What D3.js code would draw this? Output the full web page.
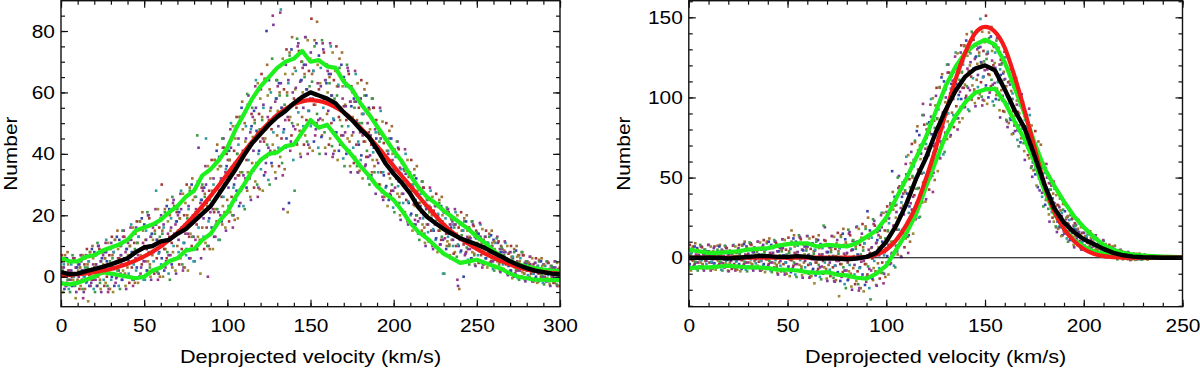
<!DOCTYPE html>
<html>
<head>
<meta charset="utf-8">
<title>Deprojected velocity histograms</title>
<script src="https://d3js.org/d3.v7.min.js"></script>
<style>
  body { margin: 0; background: #fff; }
</style>
</head>
<body>
<svg id="chart" width="1200" height="371"></svg>
<script>
// ---------- data ----------
// left panel, step 5 km/s
var leftV = [0,5,10,15,20,25,30,35,40,45,50,55,60,65,70,75,80,85,90,95,100,105,110,115,120,125,130,135,140,145,150,155,160,165,170,175,180,185,190,195,200,205,210,215,220,225,230,235,240,245,250,255,260,265,270,275,280,285,290,295,300];
var leftBlack = [1.5,0.8,1.0,1.8,2.5,3.2,4.0,5.0,6.0,8.0, 9.5,10.0,11.5,12.0,14.0,15.5,18.0,20.5,23.0,27.0, 31.0,35.0,39.5,43.5,46.5,49.5,52.0,54.0,56.5,58.5, 60.0,59.0,58.0,56.5,53.5,51.0,48.0,45.5,41.5,37.0, 33.5,30.5,27.0,22.5,19.5,17.5,15.5,14.0,12.5,11.5, 10.5,9.3,7.8,6.5,5.0,3.8,2.8,2.0,1.5,1.0, 0.8];
var leftRed = [0.4,0.6,0.8,1.1,1.5,2.0,2.5,3.3,4.2,5.3, 6.6,8.1,9.9,12.0,14.3,17.0,19.9,23.0,26.3,29.8, 33.4,37.0,40.6,44.0,47.3,50.1,52.7,54.6,56.2,57.1, 57.5,57.2,56.5,55.2,53.5,51.2,48.5,45.6,42.5,39.3, 36.0,32.7,29.5,26.2,23.0,20.0,17.0,14.6,12.5,10.7, 9.0,7.5,6.2,5.0,4.0,3.1,2.4,1.9,1.5,1.2, 1.0];
var leftUpper = [6.0,5.0,5.0,6.5,7.0,8.5,9.5,10.5,12.0,15.0, 16.0,17.0,18.5,21.0,23.0,26.0,28.0,33.0,35.0,38.0, 42.0,48.0,53.0,58.0,62.0,65.0,68.0,70.0,71.0,73.5, 70.0,70.5,68.5,68.0,63.5,61.0,56.5,53.0,49.0,45.0, 41.0,37.5,33.0,29.0,26.0,24.0,21.5,19.5,17.5,15.5, 13.0,11.0,8.5,6.5,5.0,4.0,3.3,2.7,2.3,2.0, 1.8];
var leftLower = [-2.2,-2.5,-2.0,-1.0,0.0,1.5,1.0,0.5,0.0,-0.5, 0.0,2.0,3.0,5.0,6.0,8.5,9.0,12.0,14.0,18.0, 21.0,26.0,30.0,34.5,38.0,40.0,40.5,42.5,43.0,47.0, 51.0,48.5,49.5,46.0,42.5,39.5,36.0,33.0,29.5,27.0, 25.0,21.5,17.5,14.5,12.5,10.0,7.5,6.0,4.5,5.0, 5.5,4.5,3.5,2.5,1.0,0.0,-0.5,-1.0,-1.0,-1.1, -1.1];

// right panel, step 5 km/s
var rightV = [0,5,10,15,20,25,30,35,40,45,50,55,60,65,70,75,80,85,90,95,100,105,110,115,120,125,130,135,140,145,150,155,160,165,170,175,180,185,190,195,200,205,210,215,220,225,230,235,240,245,250];
var rightBlack = [0,0,0,0,-0.5,0,0.5,1,1,0.5, 0.5,1,0.5,-0.5,-0.5,-0.5,-1,-0.5,0.5,3, 10,20,33,49,62,78,92,104,113,118, 120,117,105,92,81,64,46,31,22,16, 11.5,8.5,5.5,3,1.5,0.7,0.3,0.1,0,0, 0];
var rightRed = [0,0,0,0,0,0,0,0,0,0, 0,0,0,0,0,0,0,0,0.5,2, 5,11,20,32,49,68,90,111,128,140, 144,141,131,113,92,69,46,29,18,10.5, 5.5,2.5,1,0.3,0,0,0,0,0,0, 0];
var rightUpper = [5,4,3,3,3.5,4,5,5.5,6,7.5, 8.5,9,9,7,8,7.5,7,9,13,17, 25,37,49,62,75,91,107,119,128,133, 136,133,122,106,90,72,56,45,35,26, 19,13,8,5,3,2,1.3,1,0.7,0.5, 0.3];
var rightLower = [-6.5,-6,-6,-5.5,-5,-5.5,-6,-6,-6.5,-7.5, -7.5,-8,-9,-9.5,-9,-10.5,-11,-12.5,-13,-10, -5,5,15,27,44,60,76,88,97,103, 105,105.5,97,85,74,60,42,28,18,11, 7,4,2.5,1.5,0.8,0.5,0.2,0.1,0,0, 0];

// scatter of individual realisations: [velocity, 8 values]
var leftScatter = [
[0,-4,0,2,5,-2,7,3,1],[3,3,-4,6,0,1,-2,8,2],[6,-1,5,-5,2,4,0,-3,6],[9,6,1,-3,-7,3,5,-1,4],
[12,0,4,3,-3,7,-1,2,-7],[15,-5,0,3,6,-2,9,4,1],[18,5,-3,8,1,2,-1,10,4],[21,-1,8,-5,4,7,2,-3,10],
[24,10,3,-2,-4,5,8,1,7],[27,2,8,6,-2,12,0,4,-5],[30,-4,1,5,9,-1,13,7,3],[33,8,-3,12,3,5,0,15,6],
[36,2,12,-4,7,10,4,-1,13],[39,15,6,0,-3,9,12,3,11],[42,5,12,10,0,17,3,8,-3],[45,-1,5,9,14,2,18,11,7],
[48,13,0,18,7,9,4,21,11],[51,5,17,-1,12,15,9,2,20],[54,20,10,3,0,13,17,7,16],[57,8,17,14,2,28,6,12,-1],
[60,1,8,13,19,4,30,15,10],[63,17,2,21,9,12,6,25,14],[66,7,22,-1,15,19,11,3,24],[69,25,14,6,2,18,21,10,20],
[72,12,21,19,6,28,9,16,2],[75,3,11,17,24,7,30,20,14],[78,23,6,28,14,17,10,32,20],[81,13,28,5,21,26,17,9,31],
[84,42,20,11,1,25,29,16,28],[87,19,29,26,11,45,16,23,0],[90,10,19,25,32,14,38,28,22],[93,32,13,38,22,26,18,43,29],
[96,21,39,12,31,36,26,17,42],[99,45,30,21,16,35,40,25,38],[102,29,41,38,21,50,26,34,16],[105,20,30,37,45,25,52,40,33],
[108,45,23,52,34,38,29,57,41],[111,33,53,22,44,49,38,28,56],[114,59,43,32,26,48,53,37,52],[117,41,54,50,31,64,37,47,26],
[120,29,41,48,58,35,66,52,45],[123,56,33,64,45,48,39,69,52],[126,42,64,30,54,60,48,36,85],[129,82,52,40,34,58,64,46,62],
[132,49,63,59,39,87,45,55,33],[135,22,48,56,66,42,74,60,52],[138,64,24,72,52,56,46,78,60],[141,49,71,28,61,67,55,43,75],
[144,76,58,46,40,64,70,52,68],[147,55,69,65,46,78,51,61,40],[150,43,54,62,71,49,84,66,58],[153,67,44,75,56,59,50,83,63],
[156,51,72,40,63,68,57,46,76],[159,74,58,47,42,64,69,53,67],[162,54,66,63,45,75,50,59,39],[165,40,51,58,67,46,75,62,55],
[168,62,41,68,51,55,46,73,58],[171,46,65,36,56,62,51,41,68],[174,67,52,41,36,57,62,46,60],[177,47,58,55,39,66,43,51,34],
[180,34,43,50,58,38,64,53,46],[183,53,35,59,44,47,39,63,50],[186,39,55,30,48,52,43,34,58],[189,55,42,34,30,47,51,38,49],
[192,37,47,44,30,54,34,41,26],[195,25,33,38,45,29,50,41,36],[198,40,25,45,32,35,28,49,38],[201,28,41,21,35,39,32,24,44],
[204,42,31,24,20,35,38,27,37],[207,27,35,32,21,40,25,30,18],[210,17,24,28,34,20,38,30,26],[213,29,17,33,23,25,20,36,27],
[216,18,29,12,24,27,21,15,31],[219,29,20,14,11,23,26,17,25],[222,17,23,21,12,28,15,20,10],[225,9,15,18,23,12,27,20,17],
[228,20,9,24,15,16,12,26,18],[231,12,21,1,17,19,14,10,22],[234,22,14,10,7,17,19,12,18],[237,12,17,16,8,21,10,14,-1],
[240,-3,10,13,17,8,21,15,12],[243,15,0,18,11,12,8,20,13],[246,9,16,4,13,15,11,6,18],[249,17,11,7,4,13,15,9,14],
[252,9,14,12,5,17,7,11,3],[255,4,8,10,13,6,15,11,9],[258,11,4,13,7,8,5,15,10],[261,5,12,2,9,11,7,3,13],
[264,11,7,4,2,8,10,5,9],[267,5,8,7,2,11,4,6,1],[270,0.5,3.5,5.5,8,2,10,6.5,4.5],[273,6,0,8,3,4,2,10,5],
[276,2,7,-1,5,6,3,0,8],[279,7,3,1,-1,4,5,2,5],[282,2,4.5,4,0,6.5,1,3,-1.5],[285,-1.5,1,2.5,4.5,-0.5,6,3,1.5],
[288,3.5,-1.5,5,1,2,0,6,2.5],[291,0,4,-2.5,2,3.5,1,-1.5,5],[294,4.5,1,-1.5,-2.5,2.5,3.5,0,3],[297,0,3,2,-2,5,-0.5,1.5,-3],
[300,-3,-0.5,1,3,-1.5,5,2,0.5]
];
var leftScatter2 = [
[1.5,5,-2,2,-5,4,0,7,-3],[4.5,-3,6,-1,4,-4,2,5,-1],[7.5,2,-3,7,-1,0,6,-2,3],[10.5,-5,3,5,2,-2,-4,3,7],
[13.5,5,2,-4,7,0,4,-4,1],[16.5,7,-1.5,3,-8,5,0.5,8,-3],[19.5,-2,9,0,6,-4,3,7,-1],[22.5,4,-3,11,0,1,9,-1,5],
[25.5,-5,6,8,4,-1,-3,6,11],[28.5,8,5,-3,11,1,7,-4,3],[31.5,11,0,6,-5,8,2.5,12,-2],[34.5,-0.5,13,2,9,-3,6,10,1],
[37.5,7,-1,15,2,4,13,1,8],[40.5,-4,9,12,7,1,-2,10,16],[43.5,12,8,-1,16,4,11,-2,6],[46.5,16,3,11,-2,13,6,18,1],
[49.5,3,19,6,15,-1,10,16,5],[52.5,12,2,21,5,8,19,4,13],[55.5,-1,14,17,12,5,1,15,22],[58.5,17,12,1.5,22,7.5,16,0,10],
[61.5,20,6,14,0,16,9,22,3],[64.5,5,23,8,18,1,13,20,7],[67.5,16,4,26,8,10,23,6,17],[70.5,1,18,22,15,8,4,19,27],
[73.5,22,16,4,27,11,20,3,14],[76.5,26,9,19,2,22,13,29,6],[79.5,9,30,13,25,5,19,26,12],[82.5,22,9,46,13,16,31,12,24],
[85.5,6,25,30,22,13,9,27,36],[88.5,30,24,10,36,18,28,9,21],[91.5,35,16,27,9,30,21,38,13],[94.5,17,41,22,35,12,28,36,20],
[97.5,32,18,45,23,26,42,21,34],[100.5,15,36,41,33,23,18,38,48],[103.5,42,35.5,20,49,29,41,18.5,32],[106.5,49,28,40,19,43,33,52,24],
[109.5,28,55,34,48,23,41,50,32],[112.5,45,29,59.5,34,38,56,32.5,47],[115.5,25,49,55,45.5,34.5,29,51,62],[118.5,55,47.5,30,63,40,53,28.5,44],
[121.5,61,38,51,28,55,44,64.5,34],[124.5,37,80,43,59,31.5,51,61,41],[127.5,55,37,71,43,47,67,41,57],[130.5,32,58,64,54,42,36,60,86],
[133.5,63,55,37,71,47,61,35,51],[136.5,69,45,59,21,63,51,73,41],[139.5,44,74,50,66,38,58,68,48],[142.5,61.5,43.5,77.5,49.5,53.5,73.5,47.5,63.5],
[145.5,39,64,70,60,49,43,66,78],[148.5,69,61,44,77,54,67,42,58],[151.5,73,50,63.5,41,67,56,77,46],[154.5,48,76,53,69,42,61,70.5,51.5],
[157.5,62,45.5,77,51,55,73,49,64],[160.5,40,63,69,60,49,43,65,76],[163.5,66,59,42.5,73,51.5,64,41,55],[166.5,68,47,59,38,62.5,52,71,43],
[169.5,43.5,69,49,62,38.5,55.5,64,47],[172.5,55.5,40,69,45,49,66,44,57],[175.5,34,55.5,60.5,52,42,37,57,67],[178.5,57,50.5,36,63,44,55,34.5,47],
[181.5,58,39.5,50,32,53,44,61,36],[184.5,36.5,59,41,53,32,47,54.5,39.5],[187.5,46,33,58,38,40.5,55,36,48],[190.5,27,45,49,42,34,30,46.5,55],
[193.5,45,39.5,27.5,50.5,34,43.5,26,37],[196.5,45,29.5,38.5,23,41,33.5,47.5,27],[199.5,26.5,45,30,40,22.5,35,41.5,29],[202.5,34.5,23.5,44,27,29.5,41.5,26,35.5],
[205.5,18.5,33.5,37,31,24,21,34.5,41.5],[208.5,33.5,29,19,38,24.5,32.5,18,27],[211.5,33,20.5,28,15,30,23.5,35,18.5],[214.5,17,32,20,28,14,24,29,19],
[217.5,23,14,31,17,19,29,16,24],[220.5,10,22,25,20,14.5,11.5,23,29],[223.5,22.5,19,11,26,15.5,21.5,10,17],[226.5,23,12.5,18.5,8,20.5,15,25,10.5],
[229.5,10.5,23,13,20,1,16.5,21,12.5],[232.5,16,9,22.5,11.5,13,21,10.5,17],[235.5,6,16,18.5,14.5,10,7.5,17,22],[238.5,17,13.5,6.5,20,10.5,16,-4,12],
[241.5,17.5,8.5,13.5,4.5,15,10.5,19,7],[244.5,7.5,18,9.5,15,5.5,12.5,16,9],[247.5,12.5,6,18,8,9.5,16.5,7.5,13],[250.5,3.5,12.5,14.5,11,7,4.5,13,17.5],
[253.5,13,10,4.5,15.5,7.5,12,4,9],[256.5,13,6,10,3,11,7.5,14,4.5],[259.5,4.5,13.5,6,11,2.5,8.5,11.5,5.5],[262.5,8,3,12.5,5,6,11.5,4.5,9],
[265.5,1.5,8,9.5,7,4,2.5,8.5,11.5],[268.5,8,6,1.5,10,4,7.5,1,5],[271.5,8,2,5.5,-0.5,6.5,3.5,9,1],[274.5,1,8.5,2.5,6.5,-0.5,4.5,7,2],
[277.5,4,0,8,1.5,2.5,7,1,4.5],[280.5,-1.5,4,5,3,0.5,-0.5,4.5,6.5],[283.5,4,2.5,-1,6,1,4,-1.5,2],[286.5,4.5,0,2.5,-2,3.5,1,5.5,-1],
[289.5,-1,5,0.5,3.5,-2,2,4,0],[292.5,2,-1.5,5,-0.5,0.5,4.5,-1,2.5],[295.5,-3,2,3.5,1.5,-1,-2,2.5,5],[298.5,3,1,-2.5,4.5,-0.5,2.5,-3,0.5]
];
var rightScatter = [
[0,-7,-2,1,5,-5,8,2,-1],[2.5,3,-6,6,-2,0,-4,9,2],[5,-3,6,-8,2,4,-1,-6,7],[7.5,7,0,-5,-7,2,5,-2,4],
[10,-2,4,2,-6,8,-3,1,-8],[12.5,-6,-3,1,4,-5,7,3,0],[15,3,-6,5,-2,1,-4,8,2],[17.5,-3,5,-8,1,4,-1,-6,7],
[20,6,-1,-5,-8,2,4,-3,3],[22.5,-2,4,2,-6,8,-4,1,-8],[25,-7,-2,1,5,-5,8,2,-1],[27.5,4,-7,7.5,-1.5,0.3,-4,10,2],
[30,-3,7,-8.5,2,5,-0.5,-6,8.5],[32.5,9,1,-4.5,-7,3.5,6,-2,5],[35,-1,5.5,3.5,-5,10,-2.5,2,-8],[37.5,-8,-2,2,7,-5,11,4,0],
[40,5,-7,9,-1,1,-4,12,3],[42.5,-3,8,-9,3,6,0,-6,10],[45,10,0.5,-6,-9.5,4,7,-3,6],[47.5,-2,6,4,-7,11.5,-4,1.5,-10.5],
[50,-10,-3,2,8,-7,12.5,4,-1],[52.5,5.5,-9,10,-1.5,1,-5,14,3],[55,-4,10,-12,3.5,7.5,0,-8,13],[57.5,12.5,1,-7,-11,5,8.5,-3,7],
[60,-2,7,4.5,-8.5,13.5,-4.5,2,-12.5],[62.5,-12,-4,1,8,-8,13,4,-1],[65,4.5,-11,10,-3,-0.5,-7,14,2],[67.5,-6,8.5,-13.5,2,6,-2,-9.5,11],
[70,19,-0.5,-9,-13,3.5,8,-4.5,6.5],[72.5,-3,6.5,3.5,-10,13.5,-6,1,-14.5],[75,-15,-5,1,9,-10,15.5,4,-2],[77.5,6,-14.5,13,-4,-1,-9,18,2.5],
[80,-8,11.5,-19,2.5,8,-3,-13.5,15],[82.5,16,-1,-12,-18,5,10.5,-6.5,8.5],[85,-4.5,9.5,5.5,-14.5,19.5,-8.5,1.5,-20.5],[87.5,-19,-6,2,12.5,-12.5,21,6.5,-2],
[90,9,-17,18,-4,0.5,-10.5,25,5],[92.5,-7,17,-26,6,12.5,-0.5,-14,21],[95,23,3,-10,-17,9.5,16,-3.5,14],[97.5,1.5,17,12.5,-9.5,28,-3,8,-16],
[100,-10,3.5,12,23,-3,32,16.5,8],[102.5,24.5,-4,34,10,15,3,41,20],[105,9.5,38,-6,25,33,17.5,2,43.5],[107.5,51,26,9,1,34.5,43,17.5,40],
[110,27,48,42,12,63,21,36,3],[112.5,14,32,44,59,23,71,50,38],[115,61,25,73,43,49,34,82,55],[117.5,43.5,76.5,25.5,61.5,70.5,52.5,34.5,96],
[120,89,62,44,35,71,80,53,77],[122.5,64,84.5,78.5,50,99,58.5,73,41],[125,53,69.5,81,95,61,106,86.5,75],[127.5,96,63.5,106.5,79.5,85,71.5,114.5,90.5],
[130,81.5,110,66,97,105,89.5,74,115.5],[132.5,120.5,98,83,75.5,105.5,113,90.5,110.5],[135,99,116,111,87,128,94.5,106.5,80],[137.5,87,101.5,111,123,94,132.5,115.5,106],
[140,122.5,94,132,108,113,101,139.5,118],[142.5,106,132,91.5,120,127.5,113,98.5,137],[145,139.5,118,103.5,96.5,125,132.5,111,130],[147.5,114,131,126,102,149,109.5,121.5,95],
[150,98.5,113,122.5,134.5,105.5,151,127,117.5],[152.5,127.5,100,137,114,118.5,107,144,123],[155,108,132.5,95,121.5,128,115,101.5,137],[157.5,130,111,98.5,92,117.5,123.5,104.5,121.5],
[160,101,115,111,91,125,97,107,85],[162.5,81.5,93,100.5,110,87,117.5,104,96.5],[165,99,77.5,106.5,88.5,92,83,112,95.5],[167.5,79.5,98.5,69.5,90,95,85,74.5,102],
[170,95.5,81,71.5,66.5,86,90.5,76,89],[172.5,70,81,78,62,89,66.5,74.5,57],[175,50.5,59.5,65.5,73,55,79,68.5,62.5],[177.5,60.5,44,66,52,55,48,70.5,58],
[180,40.5,56,32,49,53,44.5,36,58.5],[182.5,50,38.5,30.5,27,42.5,46.5,34.5,45],[185,28.5,37,34.5,22.5,43,26,32,19],[187.5,16,22.5,27,32.5,19.5,37,29.5,25],
[190,26,14,30,20,22,17,33,24],[192.5,15.5,25.5,10,21,23.5,18,12.5,27],[195,24,16,10.5,8,18.5,21.5,13.5,20.5],[197.5,12,17.5,16,8,21.5,10.5,14.5,5.5],
[200,5,9.5,12,15.5,7.5,18.5,13.5,11],[202.5,12.5,5,15,9,10,7,16.5,11],[205,6,12.5,2.5,9.5,11.5,8,4.5,14],[207.5,11.5,7,4,2.5,8.5,10,5.5,9.5],
[210,4.5,8,7,2,10.5,3.5,6,0.5],[212.5,0.5,3,4.5,6.5,2,8,5.5,4],[215,4.5,0,6,2,3,1,7.5,4],[217.5,1,4.5,-1,3,3.5,2,0,5],
[220,4,1.5,0,-1,2.5,3.5,0.5,3],[222.5,0.5,2,2,-1,3.5,0,1,-1.5],[225,-1,0,1,2,-0.5,2.5,1.5,0.5],[227.5,1.5,-1,2,0,0.5,-0.5,2.5,1],
[230,-0.3,1.4,-1.2,0.6,1,0.2,-0.7,1.6],[232.5,1.5,0.2,-0.7,-1.2,0.6,1.1,-0.3,1]
];
var rightScatter2 = [
[1.25,5.5,-4,1.5,-8,3,-1.5,7,-5.5],[3.75,-5,7,-2.5,4,-7,1,5,-3],[6.25,1.5,-5.5,8,-3,-1.5,6.5,-4,2.5],[8.75,-8,2.5,5,1,-4,-6.5,3,8],
[11.25,4,1,-6.5,7,-2.5,3,-7,-1],[13.75,6,-3.5,2,-7.5,3.5,-1,7.5,-5],[16.25,-5,7,-2.5,4,-7.5,0.5,4.5,-3.5],[18.75,1,-6,7.5,-3.5,-2,6,-4.5,2],
[21.25,-8.5,2,4.5,0.5,-4.5,-7,3,7.5],[23.75,4,0.5,-6.5,7,-2.5,3,-7.5,-1],[26.25,6,-4,2,-8.5,3.5,-1.5,8,-6],[28.75,-5,8.5,-2.5,5,-7.5,1.5,6,-3],
[31.25,2.5,-5.5,9.5,-3,-1,8,-4,3.5],[33.75,-8,3.5,6.5,2,-3.5,-6.5,4.5,10],[36.25,6,2,-6.5,9.5,-2,5,-7.5,0],[38.75,8,-4,3,-9,5,-1,10,-6],
[41.25,-5,10,-2,6,-8,2,7,-3],[43.75,3,-6.5,11,-3.5,-1.5,9,-4.5,4],[46.25,-10.5,4,7,1.5,-5,-8.5,5,11.5],[48.75,6,1.5,-8.5,11,-3,5,-10,-0.5],
[51.25,9,-5.5,3,-11.5,5.5,-1.5,17,-7.5],[53.75,-6.5,12,-3,7,-10.5,2,8.5,-4],[56.25,3.5,-8,14,-4.5,-1.5,11.5,-5.5,5],[58.75,-12.5,4.5,8.5,2,-6,-9.5,6,13.5],
[61.25,7,1.5,-10,12,-3.5,5.5,-11.5,-1],[63.75,9,-7,2.5,-16,5,-3,11.5,-9.5],[66.25,-8.5,11,-4.5,6,-12,1,7.5,-5.5],[68.75,2,-10,20,-6,-3,10.5,-7,3.5],
[71.25,-14.5,3.5,8,1,-7.5,-11.5,5,13.5],[73.75,7,1,-12.5,13,-5,5.5,-14,-2],[76.25,11,-9,2.5,-24,6,-4,14,-12],[78.75,-11.5,15,-6,8,-16.5,1,9.5,-8],
[81.25,3,-14,17.5,-8.5,-4.5,14,-10,4.5],[83.75,-20,5,11,1,-10.5,-16.5,7,19],[86.25,10,2,-16.5,18,-6.5,8,-19,-2.5],[88.75,15,-10.5,4.5,-21,9,-4,19.5,-15],
[91.25,-12,29,-5.5,12,-19,3,14,-8],[93.75,6.5,-13,24,-6.5,-2,20,-8.5,9],[96.25,-17.5,11,17.5,6.5,-6.5,-13,13,26.5],[98.75,19,10,-9.5,28,1.5,17,-12,6],
[101.25,28.5,1,17,-10.5,21.5,8,33,-3.5],[103.75,2.5,54,10,30,-5,20,32.5,7.5],[106.25,28.5,4,50,12,17.5,44.5,9.5,31],[108.75,0.5,38,47,32.5,15,6.5,41,58.5],
[111.25,52,40,13,64,28,49,10,34],[113.75,66,30,51,15,57,39,72,24],[116.25,34,79,43,67,25,55,70,40],[118.75,65,38,89,47,53,83,44,68],
[121.25,36.5,75,83.5,69,51,42.5,78,95.5],[123.75,88,77,51,99.5,65.5,85.5,48.5,71],[126.25,101,68,87,54,92.5,76,106,62],[128.75,72.5,112.5,80.5,102,64.5,91,104.5,78],
[131.25,100,77,120.5,85,90,115.5,82,102.5],[133.75,76.5,108.5,115.5,103.5,89,81.5,111,125.5],[136.25,118,108.5,87,127.5,99,115.5,84.5,103.5],[138.75,128,99,116,87,120.5,106,132.5,94],
[141.25,99.5,135.5,107,126,92.5,116.5,128.5,104.5],[143.75,122,100,141,107.5,112,136,105,124],[146.25,94.5,125.5,133,121,106.5,99.5,128,142.5],[148.75,131.5,122,100.5,141,112.5,129,98,117],
[151.25,135.5,107.5,124,96,128.5,114.5,140.5,103],[153.75,104.5,138,111,129,97.5,120,131.5,109],[156.25,118.5,99,135.5,105.5,109.5,131,103,120.5],[158.75,87.5,114,120.5,110,98,91.5,116,128.5],
[161.25,111.5,104,86,119.5,96,109.5,84,100],[163.75,108,86,99,77,102.5,91.5,112,82.5],[166.25,79,105,84,98,73.5,91,100,82.5],[168.75,87,72,100.5,77,80.5,97,75.5,88.5],
[171.25,61,82,86.5,78.5,69,64,83.5,93],[173.75,76,70,56,82.5,64,74.5,54.5,67],[176.25,69.5,52,62.5,45,65.5,56.5,72.5,49.5],[178.75,42,63,46.5,57.5,38,52,59,45],
[181.25,45,33,56,37,39.5,53,35.5,46.5],[183.75,22.5,38.5,42.5,36,28.5,25,40,47.5],[186.25,34,29.5,19.5,39,25,33,18,27.5],[188.75,31.5,19,26,13.5,28,22,33.5,16.5],
[191.25,15,29,17.5,25,12,21.5,26,16.5],[193.75,19.5,11,26.5,14,15.5,24.5,13,20],[196.25,6.5,17.5,20,15.5,10.5,8,18,23.5],[198.75,16,13,6.5,19,10,15.5,6,12],
[201.25,15.5,7.5,12,4.5,13.5,9.5,16.5,6],[203.75,5.5,14.5,7.5,12.5,4,10,13,7],[206.25,9,4,13.5,5.5,6.5,12,5,9.5],[208.75,2,7.5,9,7,4,2.5,8,11],
[211.25,7,5.5,1.5,8.5,3.5,6.5,1.5,4.5],[213.75,6,2,4.5,0,5,3,7,1],[216.25,1,5.5,1.5,4,0,3,4.5,1.5],[218.75,2.5,0,4.5,1,1.5,4,0.5,2.5],
[221.25,-0.5,2,2.5,1.5,0.5,-0.5,2,3.5],[223.75,2,1,-0.5,2.5,0.5,1.5,-1,0.5],[226.25,2,-0.4,1,-1.4,1.4,0.2,2.4,-0.8],[228.75,-0.7,2,-0.1,1.3,-1.2,0.6,1.5,-0.3],
[231.25,0.5,-0.5,2,-0.5,0,1.5,-0.5,1]
];

// tick labels
var leftXTicks = [0, 50, 100, 150, 200, 250, 300];
var leftYTicks = [0, 20, 40, 60, 80];
var rightXTicks = [0, 50, 100, 150, 200, 250];
var rightYTicks = [0, 50, 100, 150];

var dotColors = ["#7a3a9c", "#3844aa", "#3f9a48", "#9c8a34", "#349aa2", "#a23838", "#a26e34", "#9c3888"];

// ---------- layout ----------
var TOP = 0.7, BOTTOM = 306.7;
var FONT = "'Liberation Sans', Arial, Helvetica, sans-serif";

var panels = [
  { v: leftV, black: leftBlack, red: leftRed, upper: leftUpper, lower: leftLower,
    dots: leftScatter.concat(leftScatter2), step: 3,
    left: 61, right: 560, xDomain: [0, 300], yDomain: [-9.77, 89.87],
    xTicks: leftXTicks, yTicks: leftYTicks, xMinor: 10, yMinor: 5, zero: false, titleX: 17 },
  { v: rightV, black: rightBlack, red: rightRed, upper: rightUpper, lower: rightLower,
    dots: rightScatter.concat(rightScatter2), step: 2.5,
    left: 688.8, right: 1182.5, xDomain: [0, 250], yDomain: [-30.57, 160.36],
    xTicks: rightXTicks, yTicks: rightYTicks, xMinor: 10, yMinor: 10, zero: true, titleX: 630 }
];

var svg = d3.select("#chart");

// widen text a little, the original glyphs are broader than Arial
function stretch(sel, f) {
  sel.each(function() {
    var w = this.getComputedTextLength();
    d3.select(this).attr("textLength", w * f).attr("lengthAdjust", "spacingAndGlyphs");
  });
}

function styleAxis(g) {
  g.select(".domain").remove();
  g.selectAll("line").attr("stroke", "#111").attr("stroke-width", 1.2);
  g.attr("font-family", FONT).attr("font-size", 19);
  g.selectAll("text").attr("fill", "#000");
}

panels.forEach(function(p, pi) {
  var x = d3.scaleLinear().domain(p.xDomain).range([p.left, p.right]);
  var y = d3.scaleLinear().domain(p.yDomain).range([BOTTOM, TOP]);

  svg.append("clipPath").attr("id", "clip" + pi).append("rect")
    .attr("x", p.left).attr("y", TOP)
    .attr("width", p.right - p.left).attr("height", BOTTOM - TOP);
  var plot = svg.append("g").attr("clip-path", "url(#clip" + pi + ")");

  // scattered realisations, each bin's values spread across the bin width
  var pts = [];
  p.dots.forEach(function(row) {
    for (var k = 1; k < row.length; k++) {
      pts.push({ v: row[0] + (k - 4.5) * p.step / 8, n: row[k], c: k - 1 });
    }
  });
  plot.selectAll("rect.dot").data(pts).join("rect")
    .attr("class", "dot")
    .attr("x", function(d) { return x(d.v) - 1.3; })
    .attr("y", function(d) { return y(d.n) - 1.3; })
    .attr("width", 2.6).attr("height", 2.6)
    .attr("fill", function(d) { return dotColors[d.c]; });

  if (p.zero) {
    plot.append("line")
      .attr("x1", x(p.xDomain[0])).attr("x2", x(p.xDomain[1]))
      .attr("y1", y(0)).attr("y2", y(0))
      .attr("stroke", "#000").attr("stroke-width", 1.1);
  }

  function series(vals) { return p.v.map(function(v, i) { return [v, vals[i]]; }); }
  var jagged = d3.line().x(function(d) { return x(d[0]); }).y(function(d) { return y(d[1]); });
  var smooth = d3.line().curve(d3.curveMonotoneX).x(function(d) { return x(d[0]); }).y(function(d) { return y(d[1]); });

  [p.upper, p.lower].forEach(function(vals) {
    plot.append("path").datum(series(vals)).attr("d", jagged)
      .attr("fill", "none").attr("stroke", "#1ef01e").attr("stroke-width", 4.2)
      .attr("stroke-linejoin", "round");
  });
  plot.append("path").datum(series(p.red)).attr("d", smooth)
    .attr("fill", "none").attr("stroke", "#f51a1a").attr("stroke-width", 4.2);
  plot.append("path").datum(series(p.black)).attr("d", jagged)
    .attr("fill", "none").attr("stroke", "#000").attr("stroke-width", 4.4)
    .attr("stroke-linejoin", "round");

  // frame
  svg.append("rect")
    .attr("x", p.left).attr("y", TOP)
    .attr("width", p.right - p.left).attr("height", BOTTOM - TOP)
    .attr("fill", "none").attr("stroke", "#111").attr("stroke-width", 1.4);

  var xMinors = d3.range(p.xDomain[0], p.xDomain[1] + 0.001, p.xMinor);
  var yMinors = d3.range(Math.ceil(p.yDomain[0] / p.yMinor) * p.yMinor, p.yDomain[1], p.yMinor);

  // bottom
  var gb = svg.append("g").attr("transform", "translate(0," + BOTTOM + ")")
    .call(d3.axisBottom(x).tickValues(p.xTicks).tickSize(-7).tickSizeOuter(0).tickPadding(11.6));
  styleAxis(gb);
  stretch(gb.selectAll("text"), 1.1);
  styleAxis(svg.append("g").attr("transform", "translate(0," + BOTTOM + ")")
    .call(d3.axisBottom(x).tickValues(xMinors).tickSize(-4).tickSizeOuter(0).tickFormat("")));
  // top
  styleAxis(svg.append("g").attr("transform", "translate(0," + TOP + ")")
    .call(d3.axisTop(x).tickValues(p.xTicks).tickSize(-7).tickSizeOuter(0).tickFormat("")));
  styleAxis(svg.append("g").attr("transform", "translate(0," + TOP + ")")
    .call(d3.axisTop(x).tickValues(xMinors).tickSize(-4).tickSizeOuter(0).tickFormat("")));
  // left
  var gl = svg.append("g").attr("transform", "translate(" + p.left + ",0)")
    .call(d3.axisLeft(y).tickValues(p.yTicks).tickSize(-7).tickSizeOuter(0).tickPadding(6));
  styleAxis(gl);
  stretch(gl.selectAll("text"), 1.1);
  styleAxis(svg.append("g").attr("transform", "translate(" + p.left + ",0)")
    .call(d3.axisLeft(y).tickValues(yMinors).tickSize(-4).tickSizeOuter(0).tickFormat("")));
  // right
  styleAxis(svg.append("g").attr("transform", "translate(" + p.right + ",0)")
    .call(d3.axisRight(y).tickValues(p.yTicks).tickSize(-7).tickSizeOuter(0).tickFormat("")));
  styleAxis(svg.append("g").attr("transform", "translate(" + p.right + ",0)")
    .call(d3.axisRight(y).tickValues(yMinors).tickSize(-4).tickSizeOuter(0).tickFormat("")));

  // axis titles
  var xt = svg.append("text")
    .attr("x", (p.left + p.right) / 2).attr("y", 363)
    .attr("text-anchor", "middle")
    .attr("font-family", FONT).attr("font-size", 19).attr("fill", "#000")
    .text("Deprojected velocity (km/s)");
  stretch(xt, 1.14);
  var yt = svg.append("text")
    .attr("transform", "translate(" + p.titleX + "," + ((TOP + BOTTOM) / 2) + ") rotate(-90)")
    .attr("text-anchor", "middle")
    .attr("font-family", FONT).attr("font-size", 19).attr("fill", "#000")
    .text("Number");
  stretch(yt, 1.1);
});
</script>
</body>
</html>
